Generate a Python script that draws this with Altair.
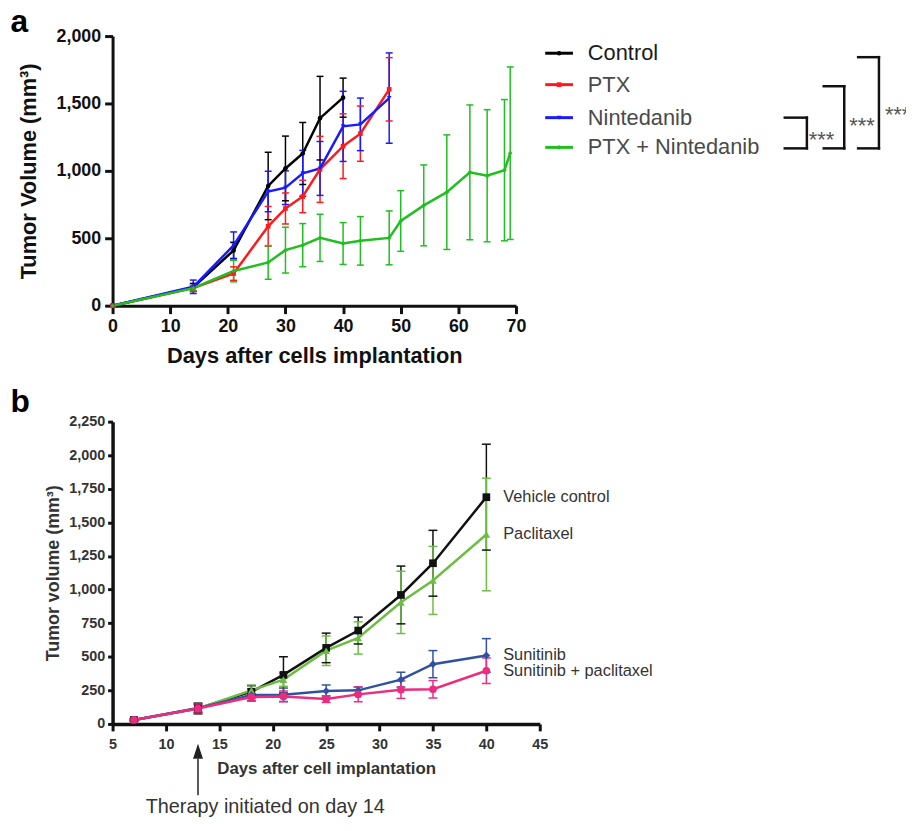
import altair as alt
import pandas as pd

# ---------------- Panel a values ----------------
A_SERIES = ["Control", "PTX", "Nintedanib", "PTX + Nintedanib"]

ctrl_days = [0, 14, 21, 27, 30, 33, 36, 40]
ctrl_mean = [0, 135, 410, 888, 1018, 1129, 1391, 1543]
ctrl_err = [0, 30, 60, 250, 240, 230, 310, 145]

ptx_days = [0, 14, 21, 27, 30, 33, 36, 40, 43, 48]
ptx_mean = [0, 130, 238, 589, 721, 810, 1011, 1183, 1276, 1605]
ptx_err = [0, 20, 50, 147, 115, 120, 245, 240, 205, 235]

nin_days = [0, 14, 21, 27, 30, 33, 36, 40, 43, 48]
nin_mean = [0, 140, 447, 847, 875, 982, 1018, 1330, 1345, 1540]
nin_err = [0, 50, 100, 150, 125, 170, 200, 260, 195, 335]

combo_days = [0, 14, 21, 27, 30, 33, 36, 40, 43, 48, 50, 54, 58, 62, 65, 68, 69]
combo_mean = [0, 130, 257, 321, 412, 449, 503, 461, 481, 503, 628, 744, 842, 989, 964, 1005, 1131]
combo_err = [0, 20, 80, 125, 170, 160, 175, 155, 180, 200, 225, 300, 425, 500, 490, 524, 640]

A_X_TICKS = [0, 10, 20, 30, 40, 50, 60, 70]
A_Y_TICKS = [0, 500, 1000, 1500, 2000]
SIG_TEXT = ["***", "***", "***"]

# ---------------- Panel b values ----------------
B_SERIES = ["Vehicle control", "Paclitaxel", "Sunitinib", "Sunitinib + paclitaxel"]
b_days = [7, 13, 18, 21, 25, 28, 32, 35, 40]
veh_mean = [30, 115, 240, 365, 566, 695, 960, 1196, 1688]
veh_err = [8, 40, 45, 135, 110, 100, 215, 245, 394]
pac_mean = [30, 115, 250, 330, 545, 640, 905, 1068, 1410]
pac_err = [8, 30, 40, 50, 110, 120, 232, 253, 419]
sun_mean = [30, 118, 215, 217, 245, 250, 330, 445, 510]
sun_err = [8, 30, 45, 50, 45, 25, 55, 101, 125]
sunpac_mean = [30, 115, 200, 205, 185, 220, 255, 258, 396]
sunpac_err = [8, 30, 25, 40, 25, 55, 65, 65, 95]

B_X_TICKS = [5, 10, 15, 20, 25, 30, 35, 40, 45]
B_Y_TICKS = [0, 250, 500, 750, 1000, 1250, 1500, 1750, 2000, 2250]
THERAPY_DAY = 13
THERAPY_TEXT = "Therapy initiated on day 14"

# ---------------- styles / layout ----------------
A_COLORS = ["#000000", "#ff1a1a", "#1a1aff", "#1fbf1f"]
A_SHAPES = ["circle", "square", "triangle-down", "diamond"]
A_LABEL_COLORS = ["#1a1a1a", "#4a4a4a", "#4a4a4a", "#4a4a4a"]
B_COLORS = ["#111111", "#6dbd45", "#2f52a0", "#ec2c80"]
B_SHAPES = ["square", "triangle-up", "diamond", "circle"]
B_LABEL_DY = [0, 0, -0.6, 0.6]

A_W, A_H = 407, 272
B_W, B_H = 431, 305
GAP = 117
ORIGIN_X, ORIGIN_Y = 105.5, 24.7      # plot-a origin inside the svg
SVG_W, SVG_H = 906, 813
LEGEND_ROW_Y = [17.3, 49.0, 82.3, 112.3]
BRACKETS = [  # x_left, x_right, y_top, y_bottom, star_x, star_baseline
    (678.2, 700.5, 82.3, 113.3, 702.5, 111.5),
    (717.5, 738.2, 50.6, 113.3, 743.2, 97.8),
    (752.2, 773.2, 21.3, 113.3, 779.2, 86.5),
]
FONT = "Liberation Sans"
ONE = pd.DataFrame({"k": [0]})


def frame(names, days, means, errs):
    rows = []
    for name, d, m, e in zip(names, days, means, errs):
        for di, mi, ei in zip(d, m, e):
            rows.append(dict(series=name, day=di, mean=mi, lo=mi - ei, hi=mi + ei, err=ei))
    return pd.DataFrame(rows)


df_a = frame(A_SERIES,
             [ctrl_days, ptx_days, nin_days, combo_days],
             [ctrl_mean, ptx_mean, nin_mean, combo_mean],
             [ctrl_err, ptx_err, nin_err, combo_err])
df_b = frame(B_SERIES, [b_days] * 4,
             [veh_mean, pac_mean, sun_mean, sunpac_mean],
             [veh_err, pac_err, sun_err, sunpac_err])


def series_layers(df, xenc, ymaker, color_enc, shape_enc, cap, lw, msize, ebw):
    base = alt.Chart(df)
    eb = base.transform_filter("datum.err > 0")
    bars = eb.mark_rule(strokeWidth=ebw).encode(x=xenc, y=ymaker("lo"), y2="hi:Q", color=color_enc)
    cap_lo = eb.mark_tick(orient="horizontal", size=cap, thickness=ebw, opacity=1).encode(
        x=xenc, y=ymaker("lo"), color=color_enc)
    cap_hi = eb.mark_tick(orient="horizontal", size=cap, thickness=ebw, opacity=1).encode(
        x=xenc, y=ymaker("hi"), color=color_enc)
    line = base.mark_line(strokeWidth=lw).encode(
        x=xenc, y=ymaker("mean"), color=color_enc, order="day:Q")
    pts = base.mark_point(filled=True, size=msize, opacity=1).encode(
        x=xenc, y=ymaker("mean"), color=color_enc, shape=shape_enc)
    return [bars, cap_lo, cap_hi, line, pts]


# ---------------- panel a ----------------
ax_common_a = dict(domainColor="#111", domainWidth=3, tickColor="#111", tickWidth=3,
                   tickSize=8, labelFont=FONT, labelFontWeight="bold", labelFontSize=18,
                   labelColor="#111", titleFont=FONT, titleFontWeight="bold",
                   titleFontSize=22, titleColor="#111", grid=False, labelPadding=4,
                   labelFlush=False, labelOverlap=False)
xa = alt.X("day:Q", scale=alt.Scale(domain=[0, 70], nice=False, zero=False),
           axis=alt.Axis(values=A_X_TICKS, title="Days after cells implantation",
                         titlePadding=10, **ax_common_a))
axis_ya = alt.Axis(values=A_Y_TICKS, format=",.0f", title="Tumor Volume (mm³)",
                   titlePadding=16, **ax_common_a)


def ya(f):
    return alt.Y(f"{f}:Q", scale=alt.Scale(domain=[0, 2000], nice=False),
                 axis=axis_ya, title="Tumor Volume (mm³)")


color_a = alt.Color("series:N", scale=alt.Scale(domain=A_SERIES, range=A_COLORS), legend=None)
shape_a = alt.Shape("series:N", scale=alt.Scale(domain=A_SERIES, range=A_SHAPES), legend=None)

layers_a = series_layers(df_a, xa, ya, color_a, shape_a, cap=7, lw=2.5, msize=22, ebw=1.5)

# manual legend
for i, name in enumerate(A_SERIES):
    ry = LEGEND_ROW_Y[i]
    layers_a.append(alt.Chart(ONE).mark_rule(strokeWidth=3).encode(
        x=alt.value(436.5), x2=alt.value(464.5), y=alt.value(ry), color=alt.value(A_COLORS[i])))
    layers_a.append(alt.Chart(ONE).mark_point(filled=True, size=22, opacity=1, shape=A_SHAPES[i]).encode(
        x=alt.value(450.5), y=alt.value(ry), color=alt.value(A_COLORS[i])))
    layers_a.append(alt.Chart(ONE).mark_text(align="left", baseline="middle", font=FONT,
                                             fontSize=22, color=A_LABEL_COLORS[i]).encode(
        x=alt.value(479.5), y=alt.value(ry), text=alt.value(name)))

# significance brackets
for (xl, xr, yt, yb_, sx, sy), txt in zip(BRACKETS, SIG_TEXT):
    for yy in (yt, yb_):
        layers_a.append(alt.Chart(ONE).mark_rule(strokeWidth=2.5, color="#111", strokeCap="square").encode(
            x=alt.value(xl), x2=alt.value(xr), y=alt.value(yy)))
    layers_a.append(alt.Chart(ONE).mark_rule(strokeWidth=2.5, color="#111", strokeCap="square").encode(
        x=alt.value(xr), y=alt.value(yt), y2=alt.value(yb_)))
    layers_a.append(alt.Chart(ONE).mark_text(align="left", baseline="alphabetic", font=FONT,
                                             fontSize=22, color="#555").encode(
        x=alt.value(sx), y=alt.value(sy), text=alt.value(txt)))

layers_a.append(alt.Chart(ONE).mark_text(align="left", baseline="alphabetic", font=FONT,
                                         fontSize=32, fontWeight="bold", color="#000").encode(
    x=alt.value(-103), y=alt.value(-4.2), text=alt.value("a")))

panel_a = alt.layer(*layers_a).properties(width=A_W, height=A_H)

# ---------------- panel b ----------------
ax_common_b = dict(domainColor="#111", domainWidth=3.5, tickColor="#111", tickWidth=3,
                   labelFont=FONT, labelFontWeight="bold", labelFontSize=14.5,
                   labelColor="#333", titleFont=FONT, titleFontWeight="bold",
                   titleColor="#333", grid=False, labelFlush=False, labelOverlap=False)
xb = alt.X("day:Q", scale=alt.Scale(domain=[5, 45], nice=False, zero=False),
           axis=alt.Axis(values=B_X_TICKS, title="Days after cell implantation",
                         tickSize=7, labelPadding=7, titlePadding=10, titleFontSize=17,
                         **ax_common_b))
axis_yb = alt.Axis(values=B_Y_TICKS, format=",.0f", title="Tumor volume (mm³)",
                   tickSize=5, labelPadding=3, titlePadding=6.5, titleFontSize=18,
                   **ax_common_b)


def yb(f):
    return alt.Y(f"{f}:Q", scale=alt.Scale(domain=[0, 2250], nice=False),
                 axis=axis_yb, title="Tumor volume (mm³)")


color_b = alt.Color("series:N", scale=alt.Scale(domain=B_SERIES, range=B_COLORS), legend=None)
shape_b = alt.Shape("series:N", scale=alt.Scale(domain=B_SERIES, range=B_SHAPES), legend=None)

layers_b = series_layers(df_b, xb, yb, color_b, shape_b, cap=9, lw=2.5, msize=60, ebw=1.5)

last_day = max(b_days)
for name, ddy in zip(B_SERIES, B_LABEL_DY):
    df_lab = df_b[(df_b["day"] == last_day) & (df_b["series"] == name)]
    layers_b.append(alt.Chart(df_lab).mark_text(align="left", baseline="middle", font=FONT,
                                                fontSize=16.5, color="#333", dx=17, dy=ddy).encode(
        x=xb, y=yb("mean"), text="series:N"))

df_arrow = pd.DataFrame({"day": [THERAPY_DAY]})
layers_b.append(alt.Chart(df_arrow).mark_rule(strokeWidth=1.5, color="#222").encode(
    x=xb, y=alt.value(340), y2=alt.value(377)))
layers_b.append(alt.Chart(df_arrow).mark_point(filled=True, opacity=1, size=225, color="#222",
                                               shape="M0,-1L0.67,1L-0.67,1Z").encode(
    x=xb, y=alt.value(332.5)))
layers_b.append(alt.Chart(ONE).mark_text(align="center", baseline="alphabetic", font=FONT,
                                         fontSize=20, color="#333").encode(
    x=alt.value(154), y=alt.value(395.3), text=alt.value(THERAPY_TEXT)))
layers_b.append(alt.Chart(ONE).mark_text(align="left", baseline="alphabetic", font=FONT,
                                         fontSize=32, fontWeight="bold", color="#000").encode(
    x=alt.value(-103), y=alt.value(-10), text=alt.value("b")))

panel_b = alt.layer(*layers_b).properties(width=B_W, height=B_H)

chart = alt.vconcat(panel_a, panel_b, spacing=GAP, bounds="flush").resolve_scale(
    x="independent", y="independent", color="independent", shape="independent"
).properties(
    autosize=alt.AutoSizeParams(type="none"),
    padding={"left": ORIGIN_X, "top": ORIGIN_Y,
             "right": SVG_W - ORIGIN_X, "bottom": SVG_H - ORIGIN_Y}
).configure_view(stroke=None)

chart.save("out.html", embed_options={"renderer": "svg", "actions": False})
